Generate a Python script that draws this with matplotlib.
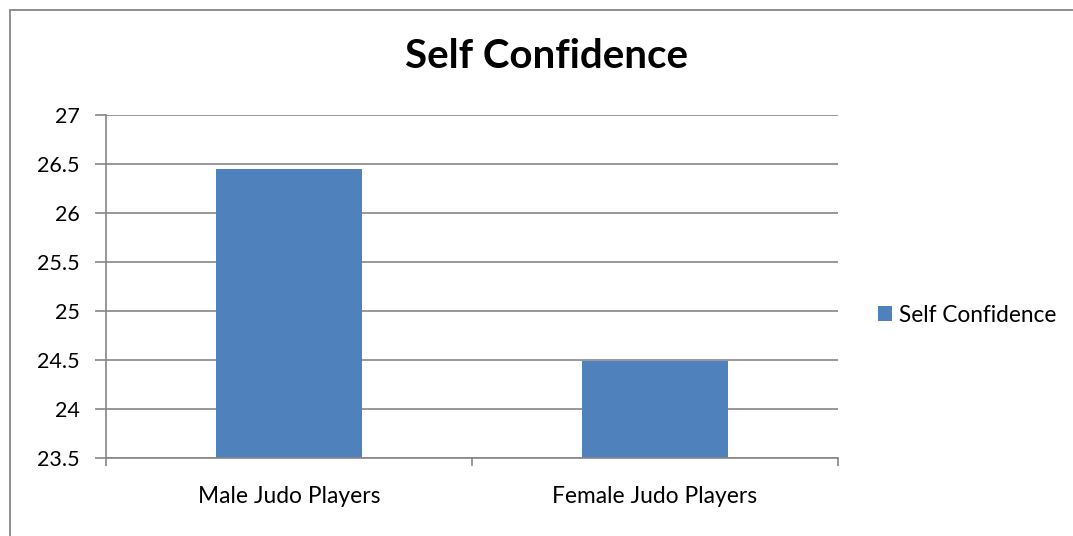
import matplotlib.pyplot as plt
from matplotlib.patches import Rectangle

categories = ["Male Judo Players", "Female Judo Players"]
self_confidence = [26.45, 24.49]
y_ticks = [23.5, 24, 24.5, 25, 25.5, 26, 26.5, 27]

bar_color = "#4F81BD"
line_color = "#868686"

plt.rcParams['font.family'] = ['Lato', 'DejaVu Sans']

fig = plt.figure(figsize=(10.73, 5.36), dpi=100)
ax = fig.add_axes([0.0988, 0.1455, 0.6822, 0.64])

x = list(range(len(categories)))
ax.bar(x, [v - y_ticks[0] for v in self_confidence], bottom=y_ticks[0],
       width=0.4, color=bar_color, label="Self Confidence", zorder=3)

ax.set_xlim(-0.5, len(categories) - 0.5)
ax.set_ylim(y_ticks[0], y_ticks[-1])
ax.set_yticks(y_ticks)
ax.set_yticklabels([f"{t:g}" for t in y_ticks], fontsize=15.5)
ax.set_xticks(x)
ax.set_xticklabels(categories, fontsize=16.4)
ax.tick_params(axis='x', length=0, pad=20)
ax.set_xticks([-0.5, 0.5, 1.5], minor=True)
ax.tick_params(axis='x', which='minor', length=6, width=1.2, color=line_color, direction='out')
ax.tick_params(axis='y', length=8, width=1.2, color=line_color, pad=11)

ax.grid(axis='y', color=line_color, linewidth=1.2, zorder=0)
ax.set_axisbelow(True)
for side in ['top', 'right']:
    ax.spines[side].set_visible(False)
for side in ['left', 'bottom']:
    ax.spines[side].set_color(line_color)
    ax.spines[side].set_linewidth(1.2)
    ax.spines[side].set_zorder(4)

fig.text(0.509, 0.895, "Self Confidence", ha='center', va='center',
         fontsize=29, fontweight='bold')

fig.legend(loc='center left', bbox_to_anchor=(0.818, 0.412), frameon=False,
           borderaxespad=0, borderpad=0, fontsize=16.3,
           handlelength=0.62, handleheight=0.62, handletextpad=0.3)

# chart area border
fig.patches.append(Rectangle((10 / 1073, -0.1), 1.2, 1 - 10 / 536 + 0.1,
                             transform=fig.transFigure, fill=False,
                             edgecolor=line_color, linewidth=1.3))

fig.savefig("out.png", dpi=100)
